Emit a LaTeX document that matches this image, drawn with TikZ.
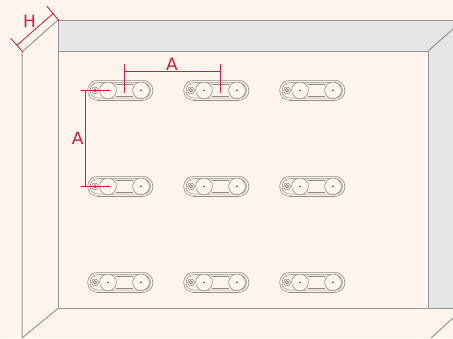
\documentclass[tikz,border=0pt]{standalone}
\usepackage{fontspec}
\setmainfont{DejaVu Sans}
\definecolor{bgc}{HTML}{FFF5EC}
\definecolor{wallc}{HTML}{E5E6E8}
\definecolor{linec}{HTML}{969696}
\definecolor{hingec}{HTML}{8E8A86}
\definecolor{redc}{HTML}{C9203C}
\tikzset{
  wall/.style={draw=linec,line width=1pt,line join=miter},
  hingeline/.style={draw=hingec,line width=0.6pt},
  dim/.style={draw=redc,line width=0.85pt},
  dimlabel/.style={text=redc,font=\fontsize{17}{18}\selectfont,inner sep=0pt},
  hinge/.pic={
    \draw[hingeline,rounded corners=10.1pt] (-32.3,-10.1) rectangle (32.9,10.1);
    \draw[hingeline,rounded corners=7.7pt] (-29.9,-7.7) rectangle (30.5,7.7);
    \draw[hingeline] (-4,-6) -- (13,-6) (-4,6) -- (13,6);
    \draw[hingeline,fill=bgc] (-12,0) circle (8.4pt);
    \draw[hingeline,fill=bgc] (21,0) circle (8.4pt);
    \fill[hingec!70!black] (-12,0) circle (1pt) (21,0) circle (1pt);
    \draw[hingeline] (-25,0) circle (3.4pt);
    \draw[hingec,line width=0.9pt] (-25,0) circle (1.6pt);
  }
}
\begin{document}
\begin{tikzpicture}[x=1pt,y=-1pt]
\useasboundingbox (0,0) rectangle (453,338);
\fill[bgc] (0,0) rectangle (453,338);
% walls
\fill[wallc] (58,20) -- (453,20) -- (453,29) -- (428,51) -- (58,51) -- cycle;
\fill[wallc] (428,51) -- (453,29) -- (453,308) -- (428,308) -- cycle;
\draw[wall] (453,20) -- (58,20) -- (58,308.5) -- (453,308.5);
\draw[wall] (58,51) -- (428,51) -- (428,308.5);
\draw[wall] (428,51) -- (453,29);
\draw[wall] (58,20) -- (22,52) -- (22,338);
\draw[wall] (22,338) -- (58,308.5);
\draw[wall] (431,338) -- (453,318);
% hinges
\foreach \cx in {120,216,312}
  \foreach \cy in {90.4,186.4,282.4}
    \pic at (\cx,\cy) {hinge};
% dimension H
\coordinate (ha) at (17.3,45);
\coordinate (hb) at (53.3,13.3);
\draw[dim] (ha) -- (hb);
\draw[dim] (10.7,38.3) -- (22.7,51.7);
\draw[dim] (46.7,6) -- (59,20.7);
\node[dimlabel] (hlabel) at (29.5,21) {H};
% dimension A, top
\coordinate (ta) at (124.6,71);
\coordinate (tb) at (220.6,71);
\draw[dim] (ta) -- (tb);
\draw[dim] (124.6,64) -- (124.6,93);
\draw[dim] (220.6,64) -- (220.6,93);
\node[dimlabel] (alabeltop) at (172,64) {A};
% dimension A, left
\coordinate (la) at (85.4,90.4);
\coordinate (lb) at (85.4,186.4);
\draw[dim] (la) -- (lb);
\draw[dim] (80.7,90.4) -- (109.5,90.4);
\draw[dim] (80.7,186.4) -- (109.5,186.4);
\node[dimlabel] (alabelleft) at (77.7,138) {A};
\end{tikzpicture}
\end{document}
